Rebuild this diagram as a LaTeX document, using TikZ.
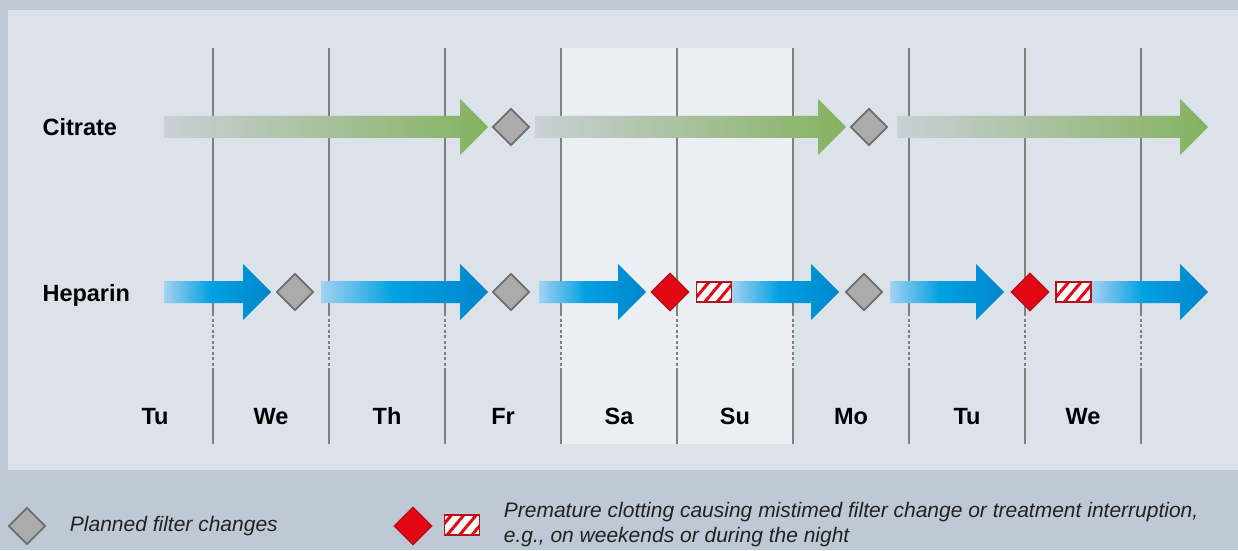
\documentclass[tikz,border=0pt]{standalone}
\usepackage{fontspec}
\setmainfont{Liberation Sans}
\usetikzlibrary{positioning,shapes.geometric,patterns.meta}

\definecolor{outerbg}{HTML}{BEC9D5}
\definecolor{panelbg}{HTML}{DCE2EA}
\definecolor{weekendbg}{HTML}{EBEEF3}
\definecolor{gridgray}{HTML}{808080}
\definecolor{plangray}{HTML}{ABABAB}
\definecolor{planborder}{HTML}{6E6E6E}
\definecolor{clotred}{HTML}{E30613}
\definecolor{clotborder}{HTML}{B5121B}
\definecolor{citstart}{HTML}{C9D0D6}
\definecolor{citend}{HTML}{84B25F}
\definecolor{hepstart}{HTML}{A3D2F2}
\definecolor{hepmid}{HTML}{00A0E1}
\definecolor{hepend}{HTML}{0086CB}
\definecolor{legtext}{HTML}{222222}

\pgfdeclarehorizontalshading{citrateflow}{100bp}{color(0bp)=(citstart); color(25bp)=(citstart); color(75bp)=(citend); color(100bp)=(citend)}
\pgfdeclarehorizontalshading{heparinflow}{100bp}{color(0bp)=(hepstart); color(25bp)=(hepstart); color(47bp)=(hepmid); color(75bp)=(hepend); color(100bp)=(hepend)}

% shading, start x, tip x, row y
\newcommand{\flowarrow}[4]{%
  \shade[shading=#1] (#2,#4-11) -- ({#3-28},#4-11) -- ({#3-28},#4-28) -- (#3,#4)
    -- ({#3-28},#4+28) -- ({#3-28},#4+11) -- (#2,#4+11) -- cycle;}

\begin{document}
\begin{tikzpicture}[
  x=1pt, y=-1pt,
  planned/.style={diamond, draw=planborder, line width=1.8pt, fill=plangray, minimum size=37pt, inner sep=0pt},
  clot/.style={diamond, draw=clotborder, line width=1.4pt, fill=clotred, minimum size=38pt, inner sep=0pt},
  clotbox/.style={rectangle, draw=clotborder, line width=1.6pt, preaction={fill=white},
    pattern={Lines[angle=50,distance=9.5pt,line width=3pt]}, pattern color=clotred,
    minimum width=35pt, minimum height=20pt, inner sep=0pt},
  rowlabel/.style={font=\fontsize{23.5}{28}\selectfont\bfseries, anchor=base west},
  daylabel/.style={font=\fontsize{23.5}{28}\selectfont\bfseries, anchor=base},
  legendtext/.style={font=\fontsize{21}{25}\selectfont\itshape, text=legtext, align=left, anchor=west}
]
% Backgrounds
\fill[outerbg] (0,0) rectangle (1238,550);
\fill[panelbg] (8,10) rectangle (1238,470);
\fill[weekendbg] (561,48) rectangle (793,444);

% Day grid
\foreach \i in {1,...,9}{
  \draw[gridgray, line width=1.2pt] ({97+116*\i},48) -- ({97+116*\i},313);
  \draw[gridgray, line width=1.2pt, dashed, dash pattern=on 3pt off 2.5pt] ({97+116*\i},313) -- ({97+116*\i},370);
  \draw[gridgray, line width=1.2pt] ({97+116*\i},370) -- ({97+116*\i},444);
}
\foreach \d [count=\i] in {Tu,We,Th,Fr,Sa,Su,Mo,Tu,We}
  \node[daylabel] (day\i) at ({39+116*\i},424) {\d};

% Citrate row
\node[rowlabel] (citrate) at (39,136) {Citrate};
\flowarrow{citrateflow}{164}{488}{127}
\node[planned] (c1) at (511,127) {};
\flowarrow{citrateflow}{535}{846}{127}
\node[planned] (c2) at (869,127) {};
\flowarrow{citrateflow}{897}{1208}{127}

% Heparin row
\node[rowlabel] (heparin) at (39,301) {Heparin};
\flowarrow{heparinflow}{164}{271}{292}
\node[planned] (p1) at (295,292) {};
\flowarrow{heparinflow}{321}{488}{292}
\node[planned] (p2) at (511,292) {};
\flowarrow{heparinflow}{539}{646}{292}
\node[clot] (k1) at (670,292) {};
\node[clotbox] (h1) at (714,292) {};
\flowarrow{heparinflow}{732}{839}{292}
\node[planned] (p3) at (864,292) {};
\flowarrow{heparinflow}{890}{1004}{292}
\node[clot] (k2) at (1030,292) {};
\node[clotbox] (h2) at (1073.5,292) {};
\flowarrow{heparinflow}{1092}{1208}{292}

% Legend
\node[planned] (legplan) at (27,526) {};
\node[legendtext, right=20pt of legplan] (legplantext) {Planned filter changes};
\node[clot] (legclot) at (413,526) {};
\node[clotbox] (legbox) at (462,525) {};
\node[legendtext, right=20pt of legbox] (legclottext) {Premature clotting causing mistimed filter change or treatment interruption,\\e.g., on weekends or during the night};
\end{tikzpicture}
\end{document}
